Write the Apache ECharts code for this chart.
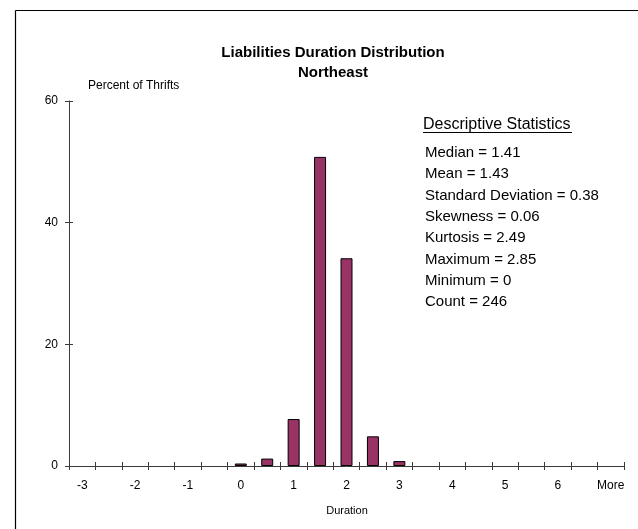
<!DOCTYPE html>
<html>
<head>
<meta charset="utf-8">
<script src="https://cdn.jsdelivr.net/npm/echarts@6/dist/echarts.min.js"></script>
<style>
html,body{margin:0;padding:0;background:#fff;}
#chart{width:638px;height:529px;}
</style>
</head>
<body>
<div id="chart"></div>
<script>
var titleLines = ['Liabilities Duration Distribution', 'Northeast'];
var yAxisName = 'Percent of Thrifts';
var xAxisName = 'Duration';
var categories = ['-3','-2.5','-2','-1.5','-1','-0.5','0','0.5','1','1.5','2','2.5','3','3.5','4','4.5','5','5.5','6','6.5','More'];
var percentValues = [0,0,0,0,0,0,0.41,1.22,7.72,50.81,34.15,4.88,0.81,0,0,0,0,0,0,0,0];
var yTicks = [0, 20, 40, 60];
var statsHeading = 'Descriptive Statistics';
var statLabels = ['Median','Mean','Standard Deviation','Skewness','Kurtosis','Maximum','Minimum','Count'];
var statValues = ['1.41','1.43','0.38','0.06','2.49','2.85','0','246'];

var FONT = '"Liberation Sans", Arial, sans-serif';
var axisColor = '#3a3a3a';

var chart = echarts.init(document.getElementById('chart'), null, {renderer:'canvas'});

var graphics = [
  {type:'line', shape:{x1:15.5,y1:10.5,x2:640,y2:10.5}, style:{stroke:'#000',lineWidth:1.2}},
  {type:'line', shape:{x1:15.5,y1:10.5,x2:15.5,y2:540}, style:{stroke:'#000',lineWidth:1.2}},
  {type:'text', x:333, y:53, style:{text:titleLines[0], font:'bold 15px '+FONT, fill:'#000', textAlign:'center', textVerticalAlign:'middle'}},
  {type:'text', x:333, y:73, style:{text:titleLines[1], font:'bold 15px '+FONT, fill:'#000', textAlign:'center', textVerticalAlign:'middle'}},
  {type:'text', x:88, y:86, style:{text:yAxisName, font:'12px '+FONT, fill:'#000', textAlign:'left', textVerticalAlign:'middle'}},
  {type:'text', x:347, y:511, style:{text:xAxisName, font:'11px '+FONT, fill:'#000', textAlign:'center', textVerticalAlign:'middle'}},
  {type:'text', x:423, y:125, style:{text:statsHeading, font:'16px '+FONT, fill:'#000', textAlign:'left', textVerticalAlign:'middle'}},
  {type:'line', shape:{x1:423,y1:132.5,x2:572,y2:132.5}, style:{stroke:'#000',lineWidth:1.2}}
];
for (var i = 0; i < statLabels.length; i++) {
  graphics.push({type:'text', x:425, y:153 + i*21.3, style:{text:statLabels[i] + ' = ' + statValues[i], font:'15px '+FONT, fill:'#000', textAlign:'left', textVerticalAlign:'middle'}});
}

var gridRect = {left:69, right:14, top:101, bottom:63, containLabel:false};

var option = {
  backgroundColor:'#fff',
  animation:false,
  grid:[
    Object.assign({}, gridRect),
    Object.assign({}, gridRect)
  ],
  xAxis:[
    {type:'category', gridIndex:0, data:categories, position:'bottom', boundaryGap:true,
     axisLine:{show:true, lineStyle:{color:axisColor, width:1}},
     axisTick:{show:true, interval:0, length:4, inside:false, lineStyle:{color:axisColor}},
     axisLabel:{show:true, interval:1, margin:14, fontFamily:FONT, fontSize:12, color:'#000'},
     splitLine:{show:false}},
    {type:'category', gridIndex:1, data:categories, position:'bottom', boundaryGap:true,
     axisLine:{show:false},
     axisTick:{show:true, interval:0, length:4, inside:true, lineStyle:{color:axisColor}},
     axisLabel:{show:false}, splitLine:{show:false}}
  ],
  yAxis:[
    {type:'value', gridIndex:0, min:yTicks[0], max:yTicks[yTicks.length-1], interval:yTicks[1]-yTicks[0],
     axisLine:{show:true, lineStyle:{color:axisColor, width:1}},
     axisTick:{show:true, length:4, inside:false, lineStyle:{color:axisColor}},
     axisLabel:{show:true, margin:11, fontFamily:FONT, fontSize:12, color:'#000'},
     splitLine:{show:false}},
    {type:'value', gridIndex:1, min:yTicks[0], max:yTicks[yTicks.length-1], interval:yTicks[1]-yTicks[0], position:'left',
     axisLine:{show:false},
     axisTick:{show:true, length:4, inside:true, lineStyle:{color:axisColor}},
     axisLabel:{show:false}, splitLine:{show:false}}
  ],
  series:[{
    type:'bar', xAxisIndex:0, yAxisIndex:0,
    data:percentValues.map(function(v){ return v === 0 ? '-' : v; }),
    barWidth:12,
    itemStyle:{color:'#993366', borderColor:'#000', borderWidth:1}
  }],
  graphic:graphics
};
chart.setOption(option);
</script>
</body>
</html>
